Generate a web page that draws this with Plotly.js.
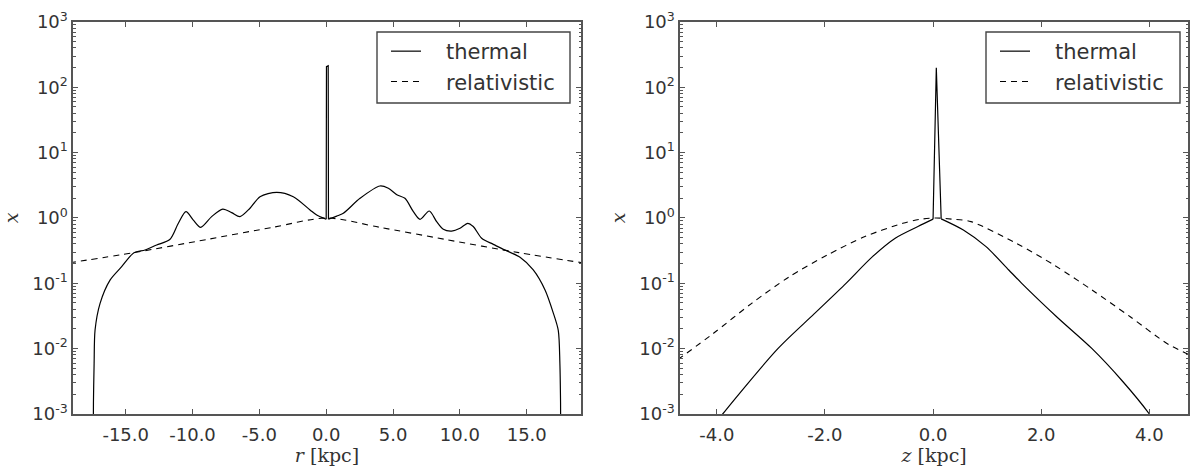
<!DOCTYPE html>
<html><head><meta charset="utf-8">
<script src="https://cdn.plot.ly/plotly-3.0.1.min.js"></script>
<style>html,body{margin:0;padding:0;background:#fff}#plot{width:1192px;height:466px}</style>
</head><body><div id="plot"></div>
<script>
// ---- left panel: r [kpc] ----
const rThermLeftX = [-17.44, -17.41, -17.36, -17.29, -16.92, -16.17, -15.3, -14.38, -13.55, -12.68, -11.68, -11.06, -10.49, -9.94, -9.39, -8.57, -7.74, -7.07, -6.45, -5.7, -4.95, -3.70, -2.46, -1.21, -0.71, 0.0];
const rThermLeftY = [1e-4, 0.0015, 0.006, 0.0193, 0.049, 0.112, 0.18, 0.294, 0.324, 0.386, 0.472, 0.83, 1.25, 0.93, 0.72, 1.05, 1.37, 1.21, 1.05, 1.41, 2.12, 2.47, 2.12, 1.33, 1.11, 0.955];
const rSpikeX = [0.0, 0.02, 0.15, 0.17];
const rSpikeY = [0.955, 207, 214, 0.96];
const rThermRightX = [0.17, 0.79, 1.28, 2.53, 4.02, 4.65, 5.32, 5.89, 6.52, 7.02, 7.71, 8.26, 8.76, 9.38, 10.01, 10.58, 11.0, 11.63, 12.5, 13.37, 14.5, 15.49, 16.37, 16.99, 17.36, 17.48, 17.53, 17.56];
const rThermRightY = [0.96, 1.07, 1.18, 2.0, 3.09, 2.85, 2.25, 2.0, 1.25, 0.955, 1.28, 0.88, 0.67, 0.63, 0.695, 0.83, 0.74, 0.49, 0.395, 0.324, 0.25, 0.16, 0.079, 0.035, 0.019, 0.006, 0.0015, 1e-4];
const rRelX = [-19.2, -14.4, -8.9, -4.0, 0.05, 4.0, 8.9, 14.4, 19.2];
const rRelY = [0.206, 0.295, 0.47, 0.72, 1.0, 0.72, 0.47, 0.295, 0.206];

// ---- right panel: z [kpc] ----
const zThermLeftX = [-4.0, -3.89, -2.87, -2.2, -1.61, -1.12, -0.70, -0.28, 0.0];
const zThermLeftY = [7.5e-4, 1e-3, 0.01, 0.034, 0.1, 0.256, 0.49, 0.74, 0.96];
const zSpikeX = [0.0, 0.06, 0.15];
const zSpikeY = [0.96, 200, 0.97];
const zThermRightX = [0.15, 0.56, 0.98, 1.40, 1.64, 2.3, 2.94, 3.5, 4.0, 4.1];
const zThermRightY = [0.97, 0.655, 0.364, 0.16, 0.1, 0.03, 0.01, 0.0032, 1e-3, 7.5e-4];
const zRelX = [-4.72, -4.06, -3.36, -2.66, -1.96, -1.26, -0.56, -0.25, 0.05, 0.35, 0.70, 1.54, 2.24, 2.94, 3.64, 4.34, 4.75];
const zRelY = [0.0068, 0.0172, 0.049, 0.126, 0.27, 0.52, 0.83, 0.95, 1.0, 0.96, 0.88, 0.41, 0.19, 0.079, 0.031, 0.0118, 0.0080];

// ---- ticks ----
const yTickVals = [1e-3, 1e-2, 1e-1, 1, 10, 100, 1000];
const yTickText = ['10<sup>-3</sup>', '10<sup>-2</sup>', '10<sup>-1</sup>', '10<sup>0</sup>', '10<sup>1</sup>', '10<sup>2</sup>', '10<sup>3</sup>'];
const rTickVals = [-15, -10, -5, 0, 5, 10, 15];
const rTickText = ['-15.0', '-10.0', '-5.0', '0.0', '5.0', '10.0', '15.0'];
const zTickVals = [-4, -2, 0, 2, 4];
const zTickText = ['-4.0', '-2.0', '0.0', '2.0', '4.0'];
const seriesNames = ['thermal', 'relativistic'];

const minorVals = [];
for (let e = -3; e < 3; e++) for (let m = 2; m <= 9; m++) minorVals.push(m * Math.pow(10, e));

const INK = '#000';
const FRAME = '#555';
const TXT = '#333';
const pad = '\u00a0\u00a0\u00a0';

function solid(x, y, xa, ya, leg, show, shape) {
  return {x, y, xaxis: xa, yaxis: ya, type: 'scatter', mode: 'lines', name: pad + seriesNames[0],
    legend: leg, legendgroup: 'th' + leg, showlegend: show,
    line: {color: INK, width: 1.2, shape: shape, smoothing: 0.8}, hoverinfo: 'skip'};
}
function dashed(x, y, xa, ya, leg) {
  return {x, y, xaxis: xa, yaxis: ya, type: 'scatter', mode: 'lines', name: pad + seriesNames[1],
    legend: leg, legendgroup: 'rel' + leg, showlegend: true,
    line: {color: INK, width: 1.1, dash: '6px,5px', shape: 'spline', smoothing: 0.8}, hoverinfo: 'skip'};
}

const data = [
  solid(rThermLeftX, rThermLeftY, 'x', 'y', 'legend', true, 'spline'),
  solid(rSpikeX, rSpikeY, 'x', 'y', 'legend', false, 'linear'),
  solid(rThermRightX, rThermRightY, 'x', 'y', 'legend', false, 'spline'),
  dashed(rRelX, rRelY, 'x', 'y', 'legend'),
  solid(zThermLeftX, zThermLeftY, 'x2', 'y2', 'legend2', true, 'spline'),
  solid(zSpikeX, zSpikeY, 'x2', 'y2', 'legend2', false, 'linear'),
  solid(zThermRightX, zThermRightY, 'x2', 'y2', 'legend2', false, 'spline'),
  dashed(zRelX, zRelY, 'x2', 'y2', 'legend2')
];

const tickFont = {family: 'DejaVu Sans', size: 18, color: TXT};
const titleFont = {family: 'DejaVu Serif', size: 19, color: TXT};

function xAxis(dom, range, tv, tt, label, anchor) {
  return {domain: dom, range: range, anchor: anchor, tickvals: tv, ticktext: tt,
    ticks: 'inside', ticklen: 5, tickwidth: 1, tickcolor: FRAME, ticklabelstandoff: 4,
    showline: true, linecolor: FRAME, linewidth: 1.6, mirror: 'ticks',
    showgrid: false, zeroline: false, tickfont: tickFont, automargin: false,
    title: {text: label, font: titleFont, standoff: 4}};
}
function yAxis(anchor) {
  return {type: 'log', domain: [0.1116, 0.9528], range: [-3, 3], anchor: anchor,
    tickvals: yTickVals, ticktext: yTickText,
    ticks: 'inside', ticklen: 5, tickwidth: 1, tickcolor: FRAME,
    minor: {tickvals: minorVals, ticks: 'inside', ticklen: 2.5, tickwidth: 1, tickcolor: FRAME, showgrid: false},
    showline: true, linecolor: FRAME, linewidth: 1.6, mirror: 'ticks',
    showgrid: false, zeroline: false, tickfont: tickFont, automargin: false,
    title: {text: '<i>x</i>', font: titleFont, standoff: 8}};
}

const legendBase = {bgcolor: 'rgba(0,0,0,0)', borderwidth: 0,
  font: {family: 'DejaVu Sans', size: 21, color: TXT}, xanchor: 'left', yanchor: 'top',
  traceorder: 'grouped', tracegroupgap: 0, itemwidth: 30};

function box(x0, x1) {
  return {type: 'rect', xref: 'paper', yref: 'paper', x0: x0/1192, x1: x1/1192,
    y0: 1 - 103/466, y1: 1 - 32/466, line: {color: '#444', width: 1.4}, fillcolor: '#fff', layer: 'above'};
}

const layout = {
  width: 1192, height: 466, paper_bgcolor: '#fff', plot_bgcolor: '#fff',
  margin: {l: 0, r: 0, t: 0, b: 0}, showlegend: true,
  xaxis: xAxis([73/1192, 581/1192], [-18.94, 19.06], rTickVals, rTickText, '<i>r</i> [kpc]', 'y'),
  yaxis: yAxis('x'),
  xaxis2: xAxis([680/1192, 1188.3/1192], [-4.68, 4.72], zTickVals, zTickText, '<i>z</i> [kpc]', 'y2'),
  yaxis2: yAxis('x2'),
  shapes: [box(377, 570), box(986, 1180)],
  legend: Object.assign({}, legendBase, {x: 386/1192, y: 1 - 31/466}),
  legend2: Object.assign({}, legendBase, {x: 995/1192, y: 1 - 31/466})
};

Plotly.newPlot('plot', data, layout, {staticPlot: true, displayModeBar: false});
</script></body></html>
